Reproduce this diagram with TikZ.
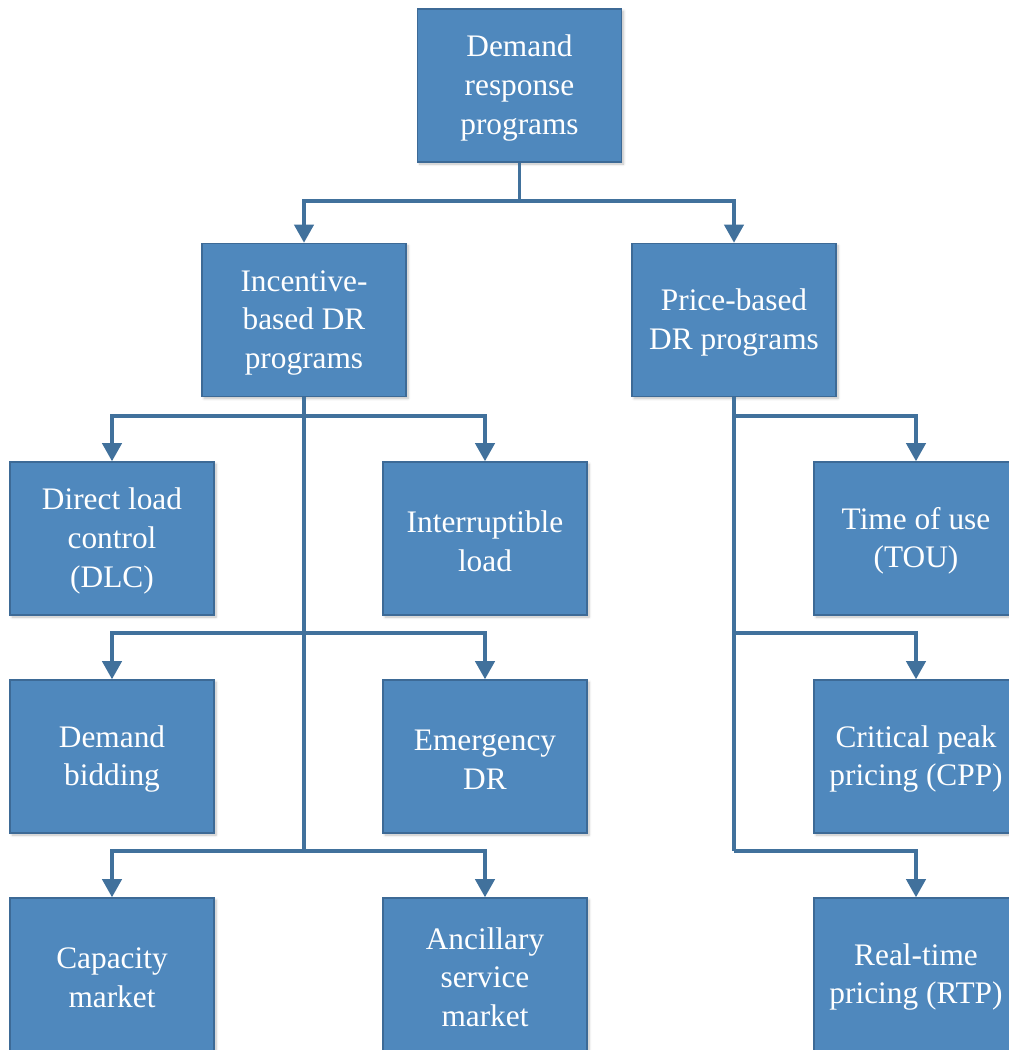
\documentclass[tikz,border=0pt]{standalone}
\usepackage{fontspec}
\setmainfont{Liberation Serif}
\usepackage{tikz}
\usetikzlibrary{arrows.meta}
\usetikzlibrary{shadows.blur}
\definecolor{boxblue}{RGB}{79,136,189}
\definecolor{boxedge}{RGB}{61,106,150}
\definecolor{linkblue}{RGB}{65,113,156}
\newcommand{\topgap}{\rule{0pt}{20pt}}

\tikzset{
  prog/.style={draw=boxedge, line width=1.2pt, fill=boxblue, text=white,
    minimum width=153pt, minimum height=114.75pt, align=center, inner sep=2pt,
    font=\fontsize{23.5}{29}\selectfont,
    blur shadow={shadow xshift=1.5pt, shadow yshift=-1.5pt, shadow opacity=25, shadow blur steps=6}},
  link/.style={draw=linkblue, line width=2.3pt},
  arr/.style={link, -{Triangle[width=14.5pt,length=13.5pt]}}
}

\begin{document}
\begin{tikzpicture}[x=0.75pt,y=0.75pt,yscale=-1,xscale=1]
\useasboundingbox (0,0) rectangle (1009,1050);
% boxes
\node [prog] (top) at (519.5,85.5) {\topgap Demand\\response\\programs};
\node [prog] (inc) at (304,320) {\topgap Incentive-\\based DR\\programs};
\node [prog] (pri) at (734,320) {\topgap Price-based\\DR programs};
\node [prog] (dlc) at (112,538.5) {\topgap Direct load\\control\\(DLC)};
\node [prog] (irl) at (485,538.5) {\topgap Interruptible\\load};
\node [prog] (tou) at (916,538.5) {\topgap Time of use\\(TOU)};
\node [prog] (dbd) at (112,756.5) {\topgap Demand\\bidding};
\node [prog] (edr) at (485,756.5) {\topgap Emergency\\DR};
\node [prog] (cpp) at (916,756.5) {\topgap Critical peak\\pricing (CPP)};
\node [prog] (cap) at (112,974.5) {\topgap Capacity\\market};
\node [prog] (anc) at (485,974.5) {\topgap Ancillary\\service\\market};
\node [prog] (rtp) at (916,974.5) {\topgap Real-time\\pricing (RTP)};
% branch points
\coordinate (t1) at (519.5,201);
\coordinate (i1) at (304,416);
\coordinate (i2) at (304,633);
\coordinate (i3) at (304,851);
\coordinate (p1) at (734,416);
\coordinate (p2) at (734,633);
\coordinate (p3) at (734,851);
% connectors
\draw [link] (top.south) -- (t1);
\draw [arr] (t1) -| (inc.north);
\draw [arr] (t1) -| (pri.north);
\draw [link] (inc.south) -- (i3);
\draw [arr] (i1) -| (dlc.north);
\draw [arr] (i1) -| (irl.north);
\draw [arr] (i2) -| (dbd.north);
\draw [arr] (i2) -| (edr.north);
\draw [arr] (i3) -| (cap.north);
\draw [arr] (i3) -| (anc.north);
\draw [link] (pri.south) -- (p3);
\draw [arr] (p1) -| (tou.north);
\draw [arr] (p2) -| (cpp.north);
\draw [arr] (p3) -| (rtp.north);
\end{tikzpicture}
\end{document}
